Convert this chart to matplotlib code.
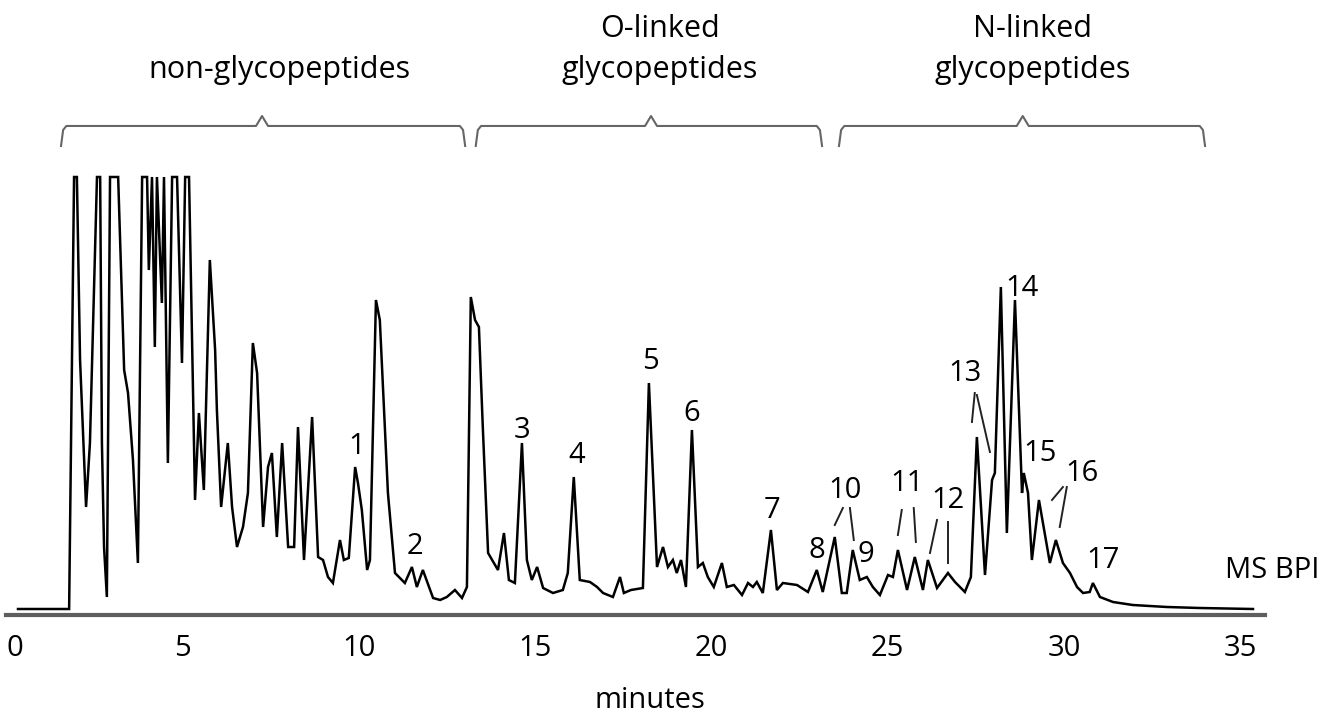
import matplotlib

matplotlib.use("Agg")
import matplotlib.pyplot as plt
import matplotlib.transforms as mtransforms

plt.rcParams["font.family"] = ["Open Sans", "DejaVu Sans"]

# MS base peak intensity trace (flat tops = saturated)
minutes = [
    0.34, 1.79, 1.93, 2.01, 2.10, 2.27, 2.38, 2.58, 2.67, 2.72,
    2.78, 2.86, 2.95, 3.18, 3.35, 3.46, 3.60, 3.74, 3.86, 4.00,
    4.05, 4.14, 4.22, 4.28, 4.42, 4.48, 4.59, 4.71, 4.85, 4.99,
    5.08, 5.19, 5.36, 5.47, 5.61, 5.78, 5.93, 5.98, 6.10, 6.29,
    6.41, 6.55, 6.72, 6.86, 7.00, 7.12, 7.29, 7.43, 7.54, 7.68,
    7.83, 8.00, 8.17, 8.28, 8.45, 8.68, 8.85, 8.99, 9.13, 9.27,
    9.47, 9.58, 9.72, 9.90, 9.98, 10.09, 10.24, 10.32, 10.49, 10.60,
    10.83, 11.03, 11.31, 11.51, 11.65, 11.82, 12.11, 12.31, 12.50, 12.73,
    12.93, 13.07, 13.18, 13.30, 13.41, 13.52, 13.67, 13.95, 14.12, 14.26,
    14.43, 14.63, 14.77, 14.91, 15.06, 15.23, 15.51, 15.79, 15.93, 16.10,
    16.27, 16.56, 16.76, 16.93, 17.21, 17.41, 17.52, 17.72, 18.06, 18.23,
    18.46, 18.63, 18.77, 18.91, 19.02, 19.14, 19.28, 19.45, 19.62, 19.76,
    19.90, 20.07, 20.30, 20.44, 20.64, 20.87, 21.04, 21.18, 21.29, 21.46,
    21.69, 21.86, 22.03, 22.43, 22.74, 22.99, 23.16, 23.50, 23.70, 23.84,
    24.01, 24.21, 24.41, 24.58, 24.78, 25.01, 25.15, 25.29, 25.55, 25.77,
    26.00, 26.14, 26.40, 26.71, 26.91, 27.19, 27.36, 27.53, 27.76, 27.96,
    28.04, 28.21, 28.38, 28.61, 28.81, 28.86, 28.98, 29.09, 29.29, 29.60,
    29.77, 29.97, 30.17, 30.37, 30.54, 30.73, 30.82, 31.02, 31.39, 31.95,
    32.92, 33.85, 35.36,
]
intensity = [
    6, 6, 438, 438, 255, 108, 172, 438, 438, 172,
    68, 18, 438, 438, 245, 222, 155, 52, 438, 438,
    345, 438, 268, 438, 312, 438, 152, 438, 438, 252,
    438, 438, 115, 202, 125, 355, 265, 205, 108, 172,
    108, 68, 88, 122, 272, 242, 88, 148, 162, 78,
    172, 68, 68, 188, 55, 198, 58, 55, 38, 32,
    75, 55, 57, 148, 132, 105, 45, 55, 315, 295,
    122, 42, 32, 48, 28, 45, 17, 15, 18, 25,
    17, 28, 318, 295, 288, 188, 62, 45, 82, 35,
    32, 172, 55, 35, 48, 27, 22, 25, 42, 138,
    35, 33, 28, 22, 18, 38, 22, 25, 27, 232,
    48, 68, 48, 55, 42, 55, 28, 185, 48, 52,
    38, 28, 52, 28, 30, 20, 32, 28, 33, 22,
    85, 25, 32, 30, 23, 45, 23, 78, 22, 22,
    65, 35, 38, 28, 20, 40, 38, 65, 25, 58,
    25, 55, 27, 42, 33, 23, 38, 178, 40, 135,
    142, 328, 82, 315, 122, 142, 122, 55, 115, 52,
    75, 52, 42, 28, 22, 23, 32, 18, 13, 10,
    8, 7, 6,
]

# numbered glycopeptide peaks: label, position (minutes, intensity of baseline)
peak_names = [str(i) for i in range(1, 18)]
peak_label_t = [9.95, 11.60, 14.63, 16.19, 18.26, 19.45, 21.72, 22.99, 24.38,
                23.79, 25.55, 26.71, 27.19, 28.81, 29.32, 30.51, 31.10]
peak_label_v = [161, 61, 177, 152, 246, 194, 97, 57, 53,
                117, 124, 107, 234, 319, 154, 134, 47]

# leader lines for crowded labels
leaders = [
    ((23.50, 90), (23.73, 107)), ((23.93, 107), (24.04, 75)),
    ((25.29, 80), (25.40, 105)), ((25.74, 107), (25.80, 73)),
    ((26.20, 62), (26.40, 95)), ((26.71, 93), (26.71, 52)),
    ((27.39, 193), (27.47, 222)), ((27.53, 220), (27.90, 163)),
    ((29.66, 115), (29.97, 128)), ((30.08, 128), (29.88, 88)),
]

# bracketed regions: (start, tip, end) in minutes
groups = ["non-glycopeptides", "O-linked\nglycopeptides", "N-linked\nglycopeptides"]
group_spans = [(1.59, 7.26, 12.99), (13.35, 18.29, 23.11), (23.65, 28.83, 33.97)]
group_text_t = [7.74, 18.54, 29.12]

fig = plt.figure(figsize=(13.43, 7.17), dpi=100)
ax = fig.add_axes([6 / 1343, 102 / 717, 1259 / 1343, 445 / 717])

ax.plot(minutes, intensity, color="black", lw=1.8, solid_joinstyle="miter", clip_on=False)
ax.set_xlim(0, 35.70)
ax.set_ylim(0, 445)

for side in ["top", "left", "right"]:
    ax.spines[side].set_visible(False)
ax.spines["bottom"].set_color("#5e5e5e")
ax.spines["bottom"].set_linewidth(3.0)
ax.set_yticks([])
ax.set_xticks(range(0, 36, 5))
ax.tick_params(axis="x", length=0, pad=14, labelsize=21, colors="black")
ax.get_xticklabels()[0].set_horizontalalignment("left")

for name, t, v in zip(peak_names, peak_label_t, peak_label_v):
    ax.text(t, v, name, ha="center", va="baseline", fontsize=21, color="black")

for (t0, v0), (t1, v1) in leaders:
    ax.plot([t0, t1], [v0, v1], color="#222222", lw=1.4)

ax.text(34.56, 37, "MS BPI", ha="left", va="baseline", fontsize=21, color="black",
        clip_on=False)

# curly brackets above the trace
trans = mtransforms.blended_transform_factory(ax.transData, fig.transFigure)
y_bar, y_tip, y_end = 0.8243, 0.8382, 0.7964
for (x0, xm, x1), label, xt in zip(group_spans, groups, group_text_t):
    ax.plot([x0 - 0.03, x0, x0 + 0.03, x0 + 0.12, xm - 0.17, xm, xm + 0.17, x1 - 0.12, x1 - 0.03, x1, x1 + 0.03],
            [y_end, 0.8075, 0.8187, y_bar, y_bar, y_tip, y_bar, y_bar, 0.8187, 0.8075, y_end],
            color="#666666", lw=1.5, transform=trans, clip_on=False)
    lines = label.split("\n")
    if len(lines) == 2:
        ax.text(xt, 0.9484, lines[0], transform=trans, ha="center", va="baseline",
                fontsize=22, color="black")
    ax.text(xt, 0.8912, lines[-1], transform=trans, ha="center", va="baseline",
            fontsize=22, color="black")

fig.text(650 / 1343, 0.012, "minutes", ha="center", va="baseline", fontsize=21,
         color="black")

fig.savefig("out.png", dpi=100)
